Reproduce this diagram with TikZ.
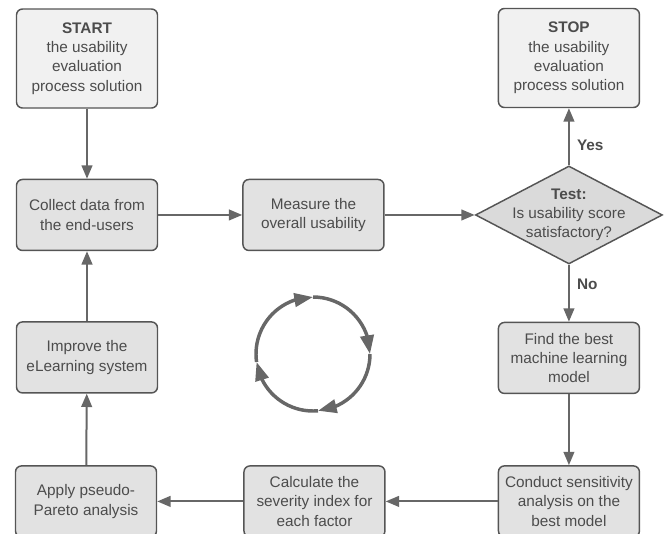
\documentclass[tikz,border=0pt]{standalone}
\usepackage{fontspec}
\setmainfont{Liberation Sans}
\usetikzlibrary{arrows.meta,positioning,shapes.geometric,bending}

\definecolor{boxfill}{HTML}{E2E2E2}
\definecolor{endfill}{HTML}{F1F1F1}
\definecolor{testfill}{HTML}{DADADA}
\definecolor{linegray}{HTML}{676767}
\definecolor{edgegray}{HTML}{555555}
\definecolor{textgray}{HTML}{4C4C4C}

\begin{document}
\begin{tikzpicture}[
    x=0.75pt, y=-0.75pt,
    block/.style={rectangle, rounded corners=4.5pt, draw=edgegray, line width=1.1pt, fill=boxfill, align=center, minimum width=105.75pt, minimum height=53.25pt, inner sep=2pt, text=textgray, font=\fontsize{11.5}{14.5}\selectfont},
    endblock/.style={block, fill=endfill, minimum height=74.25pt},
    testbox/.style={diamond, draw=edgegray, line width=1.1pt, fill=testfill, minimum width=140.25pt, minimum height=73.5pt, inner sep=0pt},
    answer/.style={right, xshift=2pt, text=textgray, font=\fontsize{11.5}{14.5}\selectfont\bfseries},
    arrow/.style={-{Triangle[length=10pt,width=8pt]}, line width=1.5pt, draw=linegray},
    loop/.style={-{Triangle[length=14pt,width=10pt]}, line width=2.6pt, draw=linegray}
]
\useasboundingbox (0,0) rectangle (665,533);

\node[endblock] (start) at (87,58.5) {\textbf{START}\\the usability\\evaluation\\process solution};
\node[block, below=52.5pt of start] (collect) {Collect data from\\the end-users};
\node[block, right=63pt of collect] (measure) {Measure the\\overall usability};
\node[testbox, right=67.5pt of measure, label={[align=center, text=textgray, font=\fontsize{11.5}{14.5}\selectfont]center:\textbf{Test:}\\Is usability score\\satisfactory?}] (test) {};
\node[endblock, above=42.75pt of test] (stop) {\textbf{STOP}\\the usability\\evaluation\\process solution};
\node[block, below=42.75pt of test] (find) {Find the best\\machine learning\\model};
\node[block, below=53.25pt of find] (conduct) {Conduct sensitivity\\analysis on the\\best model};
\node[block, left=84pt of conduct] (calc) {Calculate the\\severity index for\\each factor};
\node[block, left=64.5pt of calc] (apply) {Apply pseudo-\\Pareto analysis};
\node[block, below=52.5pt of collect] (improve) {Improve the\\eLearning system};

\draw[arrow] (start) -- (collect);
\draw[arrow] (collect) -- (measure);
\draw[arrow] (measure) -- (test);
\draw[arrow] (test) -- node[answer, pos=0.35] {Yes} (stop);
\draw[arrow] (test) -- node[answer, pos=0.35] {No} (find);
\draw[arrow] (find) -- (conduct);
\draw[arrow] (conduct) -- (calc);
\draw[arrow] (calc) -- (apply);
\draw[arrow] (apply) -- (improve);
\draw[arrow] (improve) -- (collect);

% cycle symbol in the middle
\coordinate (hub) at (313,354);
\draw[loop] ([shift={(188:42.75pt)}]hub) arc[start angle=188, end angle=90, radius=42.75pt];
\draw[loop] ([shift={(90:42.75pt)}]hub) arc[start angle=90, end angle=0, radius=42.75pt];
\draw[loop] ([shift={(0:42.75pt)}]hub) arc[start angle=0, end angle=-85, radius=42.75pt];
\draw[loop] ([shift={(-85:42.75pt)}]hub) arc[start angle=-85, end angle=-172, radius=42.75pt];
\end{tikzpicture}
\end{document}
